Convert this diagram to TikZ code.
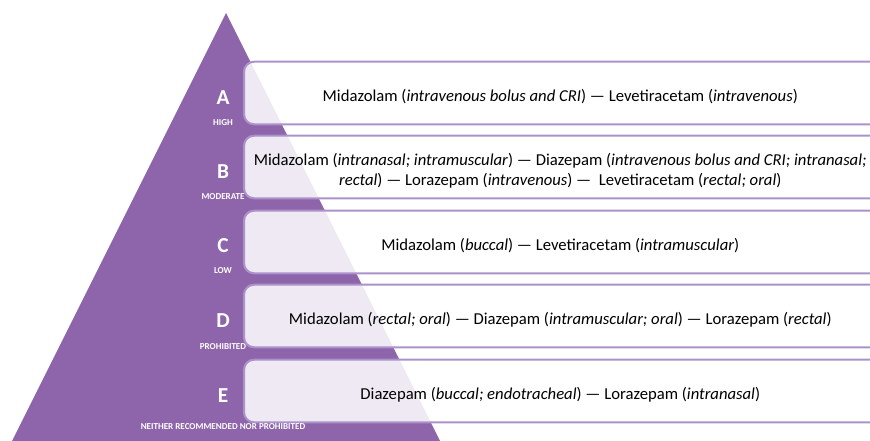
\documentclass[tikz,border=0pt]{standalone}
\usepackage{fontspec}
\setmainfont{Carlito}
\usetikzlibrary{backgrounds}
\definecolor{pyrpurple}{HTML}{8E65AA}
\definecolor{rimpurple}{HTML}{AB92CB}
\begin{document}
\begin{tikzpicture}[x=0.75pt, y=-0.75pt,
    level/.style={rectangle, anchor=west, minimum width=474pt, minimum height=46.5pt, align=center, font=\fontsize{12.5}{15}\selectfont},
    frame/.style={draw=rimpurple, line width=1.5pt, fill=white, fill opacity=0.86, rounded corners=7.5pt},
    grade/.style={text=white, font=\fontsize{16}{18}\selectfont\bfseries},
    tag/.style={text=white, font=\fontsize{6.8}{7}\selectfont\bfseries, inner sep=0pt}]
        \useasboundingbox (0,0) rectangle (870,441);

        \node[level] at (244,97) (boxA) {Midazolam (\textit{intravenous bolus and CRI}) — Levetiracetam (\textit{intravenous})};
        \node[level] at (244,171) (boxB) {Midazolam (\textit{intranasal; intramuscular}) — Diazepam (\textit{intravenous bolus and CRI; intranasal;}\\ \textit{rectal}) — Lorazepam (\textit{intravenous}) —~ Levetiracetam (\textit{rectal; oral})};
        \node[level] at (244,246) (boxC) {Midazolam (\textit{buccal}) — Levetiracetam (\textit{intramuscular})};
        \node[level] at (244,320) (boxD) {Midazolam (\textit{rectal; oral}) — Diazepam (\textit{intramuscular; oral}) — Lorazepam (\textit{rectal})};
        \node[level] at (244,395) (boxE) {Diazepam (\textit{buccal; endotracheal}) — Lorazepam (\textit{intranasal})};

        \node[grade] at (223,98) (gradeA) {A};
        \node[grade] at (223,172) (gradeB) {B};
        \node[grade] at (223,246) (gradeC) {C};
        \node[grade] at (223,321) (gradeD) {D};
        \node[grade] at (223,396) (gradeE) {E};

        \node[tag] at (223,123) (tagA) {HIGH};
        \node[tag] at (223,197) (tagB) {MODERATE};
        \node[tag] at (223,271) (tagC) {LOW};
        \node[tag] at (223,347) (tagD) {PROHIBITED};
        \node[tag] at (223,427) (tagE) {NEITHER RECOMMENDED NOR PROHIBITED};

        \begin{scope}[on background layer]
            \fill[pyrpurple] (226,13) -- (440,441) -- (12,441) -- cycle;
            % frames sit a little above the text rows, open on the right
            \foreach \b in {boxA,boxB,boxC,boxD,boxE}
                \draw[frame] ([xshift=30pt,yshift=3pt]\b.north east) -- ([yshift=3pt]\b.north west) -- ([yshift=3pt]\b.south west) -- ([xshift=30pt,yshift=3pt]\b.south east);
        \end{scope}
    \end{tikzpicture}
\end{document}
